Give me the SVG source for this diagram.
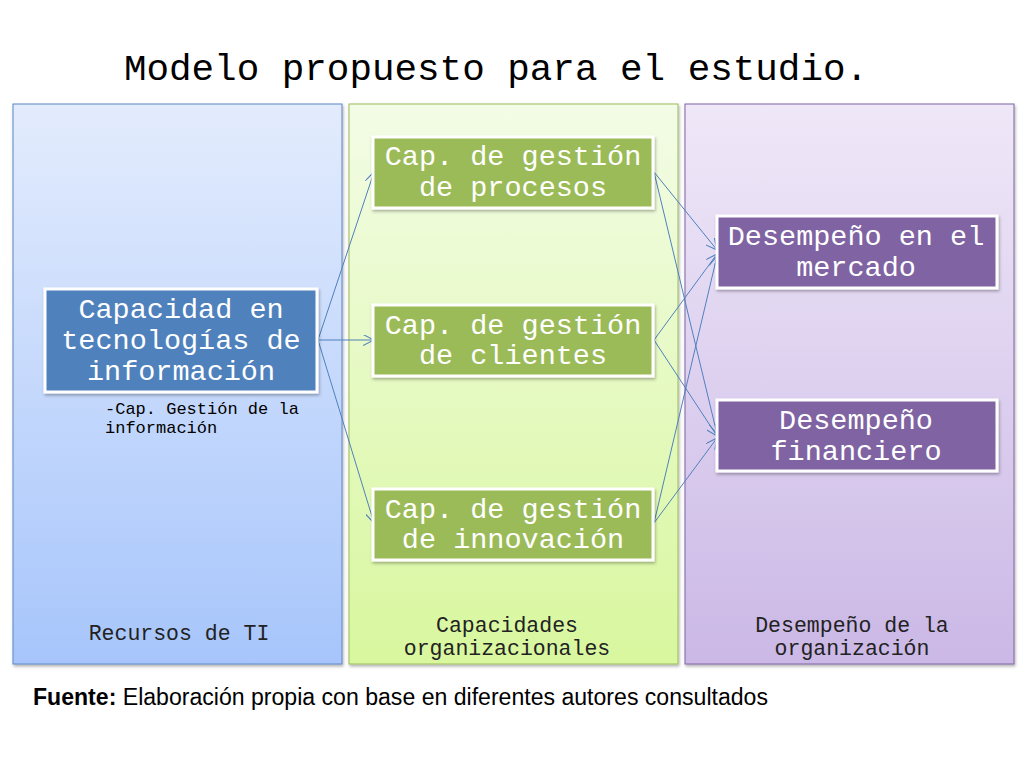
<svg xmlns="http://www.w3.org/2000/svg" width="1021" height="768" viewBox="0 0 1021 768">
<style>
.mono{font-family:"Liberation Mono","DejaVu Sans Mono",monospace}
.node-t{font-size:28.5px;fill:#ffffff;text-anchor:middle}
.lbl{font-size:21.5px;fill:#222222;text-anchor:middle}
.conn{stroke:#4f81bd;stroke-width:1;fill:none;marker-end:url(#arr)}
.nbox{stroke:#ffffff;stroke-width:3;filter:url(#sh)}
</style>
<defs>
<linearGradient id="gb" x1="0" y1="0" x2="0" y2="1"><stop offset="0" stop-color="#e3ecfd"/><stop offset="1" stop-color="#a7c5fb"/></linearGradient>
<linearGradient id="gg" x1="0" y1="0" x2="0" y2="1"><stop offset="0" stop-color="#f3fce6"/><stop offset="1" stop-color="#d8f79e"/></linearGradient>
<linearGradient id="gp" x1="0" y1="0" x2="0" y2="1"><stop offset="0" stop-color="#efe8f8"/><stop offset="1" stop-color="#cbb8e6"/></linearGradient>
<filter id="sh" x="-10%" y="-10%" width="120%" height="130%"><feDropShadow dx="1" dy="2" stdDeviation="1.5" flood-color="#000" flood-opacity="0.3"/></filter>
<marker id="arr" viewBox="0 0 10 10" refX="10" refY="5" markerWidth="11" markerHeight="11" markerUnits="userSpaceOnUse" orient="auto"><path d="M0,0 L10,5 L0,10" fill="none" stroke="#4f81bd" stroke-width="1"/></marker>
</defs>
<rect width="1021" height="768" fill="#ffffff"/>
<text class="mono" x="496" y="80" font-size="37.6" text-anchor="middle" fill="#000000">Modelo propuesto para el estudio.</text>

<g id="panel-recursos">
<rect x="13" y="104" width="329" height="560" fill="url(#gb)" stroke="#5b86c5" stroke-width="1" filter="url(#sh)"/>
<text class="mono lbl" x="179" y="640">Recursos de TI</text>
</g>
<g id="panel-capacidades">
<rect x="349" y="104" width="329" height="560" fill="url(#gg)" stroke="#9bbb59" stroke-width="1" filter="url(#sh)"/>
<text class="mono lbl" x="507" y="632">Capacidades</text>
<text class="mono lbl" x="507" y="655">organizacionales</text>
</g>
<g id="panel-desempeno">
<rect x="685" y="104" width="329" height="560" fill="url(#gp)" stroke="#8064a2" stroke-width="1" filter="url(#sh)"/>
<text class="mono lbl" x="852" y="632">Desempeño de la</text>
<text class="mono lbl" x="852" y="655">organización</text>
</g>

<g id="connectors">
<path class="conn" d="M318,340 L374,172"/>
<path class="conn" d="M318,340 L374,340"/>
<path class="conn" d="M318,340 L374,523"/>
<path class="conn" d="M654,172 L717,250"/>
<path class="conn" d="M654,172 L717,434"/>
<path class="conn" d="M654,340 L717,254"/>
<path class="conn" d="M654,340 L717,436"/>
<path class="conn" d="M654,523 L717,256"/>
<path class="conn" d="M654,523 L717,438"/>
</g>

<g id="node-ti">
<rect class="nbox" x="45" y="289" width="272" height="103" fill="#4f81bd"/>
<text class="mono node-t" x="181" y="318">Capacidad en</text>
<text class="mono node-t" x="181" y="349">tecnologías de</text>
<text class="mono node-t" x="181" y="380">información</text>
<text class="mono" x="105" y="414" font-size="17" fill="#000000">-Cap. Gestión de la</text>
<text class="mono" x="105" y="433" font-size="17" fill="#000000">información</text>
</g>
<g id="node-procesos">
<rect class="nbox" x="373" y="137" width="280" height="71" fill="#9bbb59"/>
<text class="mono node-t" x="513" y="165">Cap. de gestión</text>
<text class="mono node-t" x="513" y="196">de procesos</text>
</g>
<g id="node-clientes">
<rect class="nbox" x="373" y="305" width="280" height="71" fill="#9bbb59"/>
<text class="mono node-t" x="513" y="334">Cap. de gestión</text>
<text class="mono node-t" x="513" y="364">de clientes</text>
</g>
<g id="node-innovacion">
<rect class="nbox" x="373" y="489" width="280" height="71" fill="#9bbb59"/>
<text class="mono node-t" x="513" y="518">Cap. de gestión</text>
<text class="mono node-t" x="513" y="548">de innovación</text>
</g>
<g id="node-mercado">
<rect class="nbox" x="717" y="216" width="280" height="72" fill="#8064a2"/>
<text class="mono node-t" x="856" y="245">Desempeño en el</text>
<text class="mono node-t" x="856" y="276">mercado</text>
</g>
<g id="node-financiero">
<rect class="nbox" x="717" y="400" width="280" height="71" fill="#8064a2"/>
<text class="mono node-t" x="856" y="429">Desempeño</text>
<text class="mono node-t" x="856" y="460">financiero</text>
</g>

<text x="33" y="705" font-family="'Liberation Sans',Arial,sans-serif" font-size="23" fill="#000000" textLength="735" lengthAdjust="spacingAndGlyphs"><tspan font-weight="bold">Fuente:</tspan> Elaboración propia con base en diferentes autores consultados</text>
</svg>
